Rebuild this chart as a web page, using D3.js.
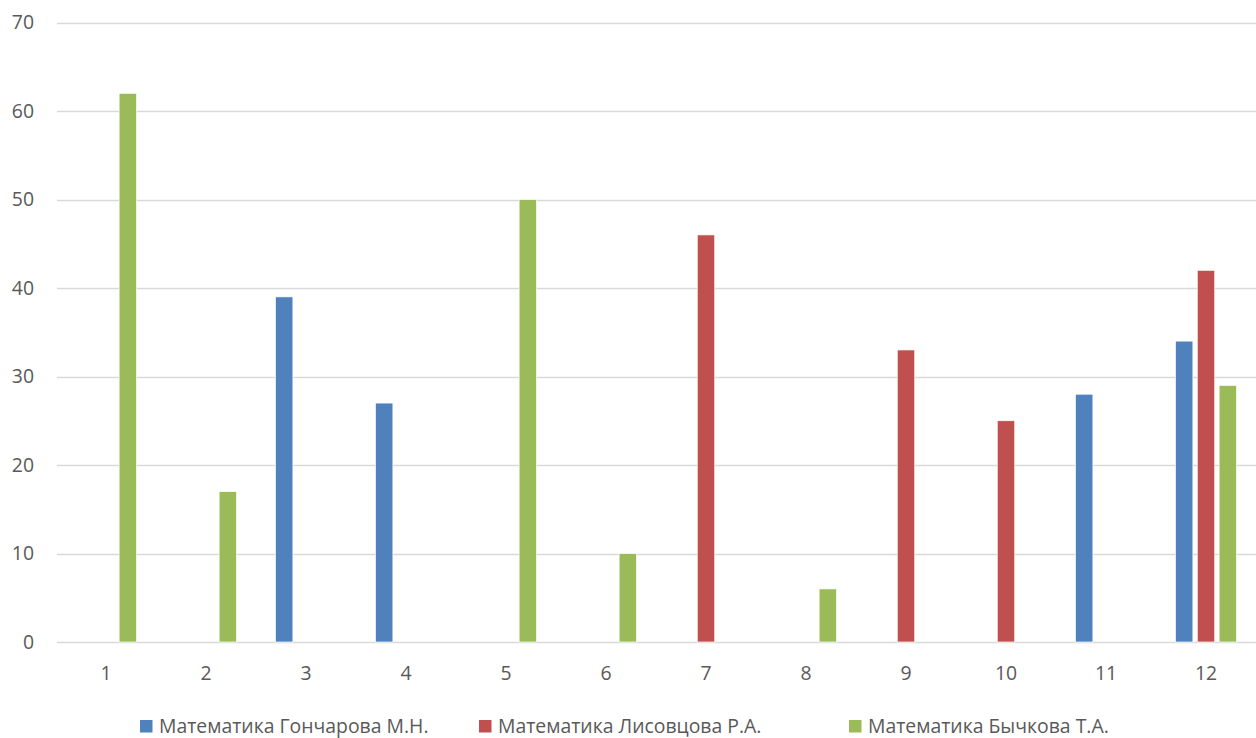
<!DOCTYPE html>
<html><head><meta charset="utf-8">
<script src="https://cdn.jsdelivr.net/npm/d3@7"></script>
<style>body{margin:0;background:#fff}svg{display:block}</style>
</head><body>
<script>
const categories = ["1","2","3","4","5","6","7","8","9","10","11","12"];
const seriesNames = ["Математика Гончарова М.Н.", "Математика Лисовцова Р.А.", "Математика Бычкова Т.А."];
const seriesColors = ["#4F81BD", "#C0504D", "#9BBB59"];
const goncharova = [null, null, 39, 27, null, null, null, null, null, null, 28, 34];
const lisovtsova = [null, null, null, null, null, null, 46, null, 33, 25, null, 42];
const bychkova   = [62, 17, null, null, 50, 10, null, 6, null, null, null, 29];
const yTicks = [0, 10, 20, 30, 40, 50, 60, 70];

const W = 1256, H = 738;
const m = {left: 56, right: 0, top: 22.5, bottom: 96};
const svg = d3.select("body").append("svg").attr("width", W).attr("height", H);
const font = "'Open Sans', sans-serif";
const fs = 19.4;

const x0 = d3.scaleBand().domain(categories).range([m.left, W - m.right]).padding(0);
const x1 = d3.scaleBand().domain(d3.range(3)).range([0, x0.bandwidth()]).paddingInner(0.2).paddingOuter(0.89);
const y = d3.scaleLinear().domain([0, 70]).range([H - m.bottom, m.top]);

// grid
svg.append("g").selectAll("line").data(yTicks).join("line")
  .attr("x1", m.left + 1).attr("x2", W).attr("y1", d => Math.round(y(d)) + 0.5).attr("y2", d => Math.round(y(d)) + 0.5)
  .attr("stroke", "#d9d9d9").attr("stroke-width", 1.3);

// y labels
svg.append("g").selectAll("text").data(yTicks).join("text")
  .attr("x", 34).attr("y", d => y(d)).attr("dy", "0.35em").attr("text-anchor", "end")
  .attr("font-family", font).attr("font-size", fs).attr("fill", "#595959").text(d => d);

// x labels
svg.append("g").selectAll("text").data(categories).join("text")
  .attr("x", d => x0(d) + x0.bandwidth() / 2).attr("y", 673).attr("dy", "0.35em").attr("text-anchor", "middle")
  .attr("font-family", font).attr("font-size", fs).attr("fill", "#595959").text(d => d);

// bars
const series = [goncharova, lisovtsova, bychkova];
const barData = [];
series.forEach((vals, si) => vals.forEach((v, ci) => { if (v != null) barData.push({si, c: categories[ci], v}); }));
svg.append("g").selectAll("rect").data(barData).join("rect")
  .attr("x", d => x0(d.c) + x1(d.si)).attr("width", x1.bandwidth())
  .attr("y", d => y(d.v)).attr("height", d => y(0) - y(d.v))
  .attr("fill", d => seriesColors[d.si]).attr("stroke", "#fff").attr("stroke-width", 0.7);

// legend
const legendX = [140, 479, 849];
const lg = svg.append("g");
seriesNames.forEach((name, i) => {
  lg.append("rect").attr("x", legendX[i]).attr("y", 720).attr("width", 12.5).attr("height", 12.5).attr("fill", seriesColors[i]);
  lg.append("text").attr("x", legendX[i] + 19).attr("y", 726.5).attr("dy", "0.35em")
    .attr("font-family", font).attr("font-size", fs).attr("fill", "#595959").text(name);
});
</script>
</body></html>
